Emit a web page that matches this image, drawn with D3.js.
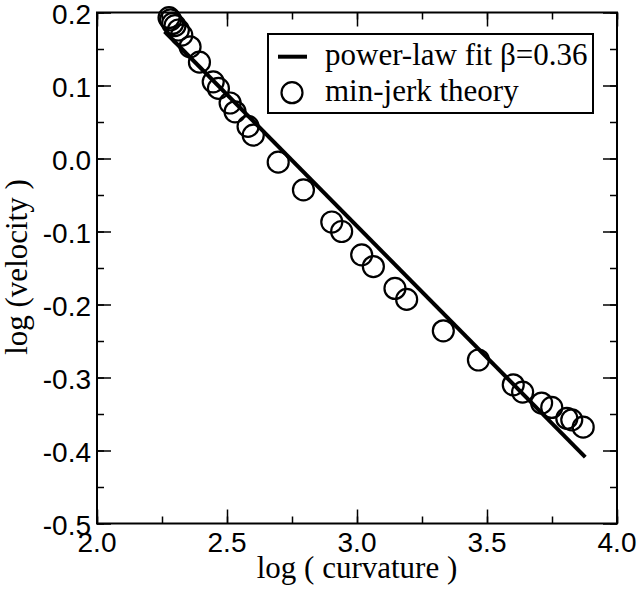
<!DOCTYPE html>
<html lang="en">
<head>
  <meta charset="UTF-8">
  <title>log velocity vs log curvature</title>
  <script src="https://d3js.org/d3.v7.min.js"></script>
  <style>
    body {
      margin: 0;
      background: #fff;
    }

    svg {
      display: block;
    }

    .tick-label {
      font-family: "Liberation Sans", Arial, sans-serif;
      font-size: 28px;
      fill: #000;
    }

    .title, .legend text {
      font-family: "Liberation Serif", "Times New Roman", serif;
      font-size: 31px;
      fill: #000;
    }

    .axis path {
      display: none;
    }

    .axis line {
      stroke: #000;
      stroke-width: 1.5;
    }
  </style>
</head>
<body>

<svg width="640" height="592"></svg>

<script>
  // min-jerk theory points: log(curvature), log(velocity)
  const curvature = [2.277, 2.283, 2.291, 2.300, 2.313, 2.326, 2.358, 2.394, 2.447, 2.467,
    2.512, 2.531, 2.581, 2.601, 2.697, 2.794, 2.903, 2.941, 3.018, 3.063,
    3.146, 3.191, 3.332, 3.467, 3.601, 3.637, 3.710, 3.749, 3.807, 3.826, 3.870];
  const velocity = [0.193, 0.190, 0.185, 0.182, 0.176, 0.169, 0.153, 0.132, 0.105, 0.096,
    0.076, 0.064, 0.044, 0.032, -0.005, -0.043, -0.087, -0.100, -0.132, -0.148,
    -0.178, -0.193, -0.236, -0.276, -0.310, -0.320, -0.335, -0.341, -0.356, -0.358, -0.368];

  // power-law fit line end points
  const fitX = [2.26, 3.878];
  const fitY = [0.174, -0.409];

  const xTicks = [2.0, 2.5, 3.0, 3.5, 4.0];
  const yTicks = [0.2, 0.1, 0.0, -0.1, -0.2, -0.3, -0.4, -0.5];

  const legendLabels = ["power-law fit \u03b2=0.36", "min-jerk theory"];

  const svg = d3.select("svg");
  const margin = {left: 97, top: 12.5, right: 617, bottom: 523.5};

  const x = d3.scaleLinear().domain([2, 4]).range([margin.left, margin.right]);
  const y = d3.scaleLinear().domain([-0.5, 0.2]).range([margin.bottom, margin.top]);

  const xMinor = d3.range(2, 4.001, 0.25);
  const yMinor = d3.range(-0.5, 0.2001, 0.05);

  // ticks on all four sides, pointing inward
  function addAxis(axis, transform, vals, size) {
    svg.append("g")
      .attr("class", "axis")
      .attr("transform", transform)
      .call(axis.tickValues(vals).tickSizeInner(-size).tickSizeOuter(0).tickFormat(""));
  }
  addAxis(d3.axisBottom(x), `translate(0,${margin.bottom})`, xMinor, 7);
  addAxis(d3.axisBottom(x), `translate(0,${margin.bottom})`, xTicks, 14);
  addAxis(d3.axisTop(x), `translate(0,${margin.top})`, xMinor, 7);
  addAxis(d3.axisTop(x), `translate(0,${margin.top})`, xTicks, 14);
  addAxis(d3.axisLeft(y), `translate(${margin.left},0)`, yMinor, 7);
  addAxis(d3.axisLeft(y), `translate(${margin.left},0)`, yTicks, 14);
  addAxis(d3.axisRight(y), `translate(${margin.right},0)`, yMinor, 7);
  addAxis(d3.axisRight(y), `translate(${margin.right},0)`, yTicks, 14);

  svg.append("rect")
    .attr("x", margin.left)
    .attr("y", margin.top)
    .attr("width", margin.right - margin.left)
    .attr("height", margin.bottom - margin.top)
    .attr("fill", "none")
    .attr("stroke", "#000")
    .attr("stroke-width", 2);

  svg.append("g")
    .selectAll("text")
    .data(xTicks)
    .join("text")
    .attr("class", "tick-label")
    .attr("x", d => x(d))
    .attr("y", 552)
    .attr("text-anchor", "middle")
    .text(d => d.toFixed(1));

  svg.append("g")
    .selectAll("text")
    .data(yTicks)
    .join("text")
    .attr("class", "tick-label")
    .attr("x", 91)
    .attr("y", d => y(d) + 11)
    .attr("text-anchor", "end")
    .text(d => d.toFixed(1));

  svg.append("text")
    .attr("class", "title")
    .attr("x", 357)
    .attr("y", 578)
    .attr("text-anchor", "middle")
    .text("log ( curvature )");

  svg.append("text")
    .attr("class", "title")
    .attr("transform", "translate(27,267) rotate(-90)")
    .attr("text-anchor", "middle")
    .text("log (velocity )");

  // fit line
  svg.append("line")
    .attr("x1", x(fitX[0]))
    .attr("y1", y(fitY[0]))
    .attr("x2", x(fitX[1]))
    .attr("y2", y(fitY[1]))
    .attr("stroke", "#000")
    .attr("stroke-width", 4);

  svg.append("g")
    .selectAll("circle")
    .data(curvature)
    .join("circle")
    .attr("cx", d => x(d))
    .attr("cy", (d, i) => y(velocity[i]))
    .attr("r", 10.5)
    .attr("fill", "none")
    .attr("stroke", "#000")
    .attr("stroke-width", 2.2);

  // legend
  const legend = svg.append("g").attr("class", "legend");
  legend.append("rect")
    .attr("x", 268)
    .attr("y", 34)
    .attr("width", 325)
    .attr("height", 79)
    .attr("fill", "#fff")
    .attr("stroke", "#000")
    .attr("stroke-width", 2);
  legend.append("line")
    .attr("x1", 278).attr("x2", 307)
    .attr("y1", 56.7).attr("y2", 56.7)
    .attr("stroke", "#000")
    .attr("stroke-width", 4);
  legend.append("circle")
    .attr("cx", 292).attr("cy", 92.7)
    .attr("r", 10.5)
    .attr("fill", "none")
    .attr("stroke", "#000")
    .attr("stroke-width", 2.2);
  legend.selectAll("text")
    .data(legendLabels)
    .join("text")
    .attr("x", 325)
    .attr("y", (d, i) => 65 + i * 36)
    .text(d => d);
</script>
</body>
</html>
